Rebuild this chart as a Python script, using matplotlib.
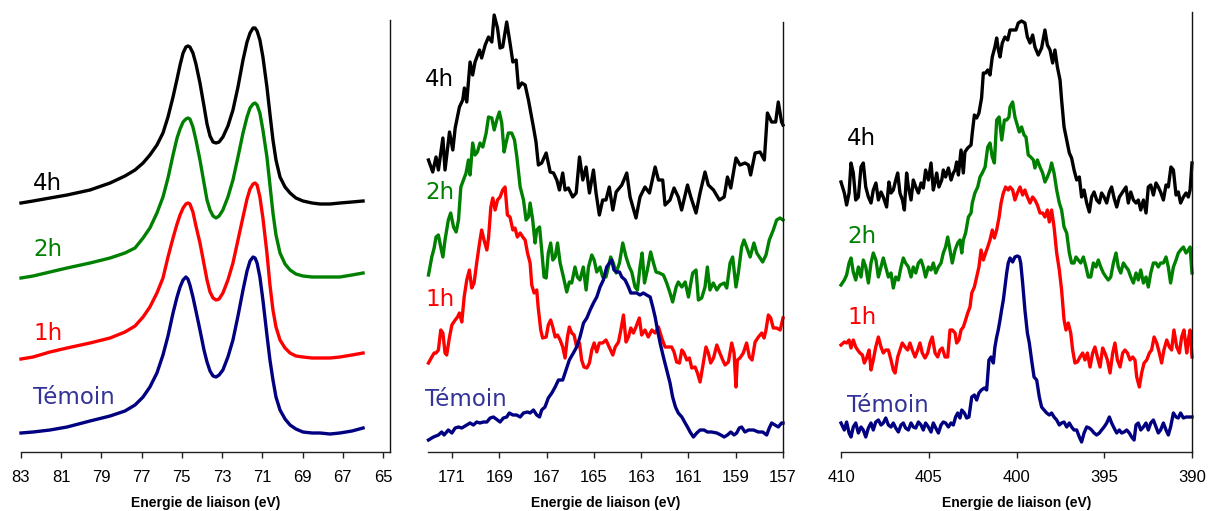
import matplotlib
matplotlib.use("Agg")
import matplotlib.pyplot as plt

plt.rcParams['font.family'] = ['Liberation Sans', 'DejaVu Sans']

# ---------------- Pt 4f ----------------
pt_e = [83.00, 82.40, 81.56, 80.71, 79.57, 78.57, 77.83, 77.33, 76.93, 76.59,
        76.24, 75.94, 75.69, 75.44, 75.24, 75.09, 74.94, 74.80, 74.70, 74.60,
        74.45, 74.30, 74.10, 73.90, 73.75, 73.60, 73.45, 73.30, 73.15, 72.96,
        72.71, 72.46, 72.21, 71.96, 71.76, 71.61, 71.46, 71.36, 71.26, 71.12,
        70.97, 70.77, 70.62, 70.47, 70.32, 70.12, 69.87, 69.62, 69.33, 68.98,
        68.53, 68.13, 67.63, 67.14, 66.54, 65.99]
pt_i_4h = [249, 251, 254, 257, 262, 269, 276, 282, 289, 297,
           307, 319, 335, 355, 373, 387, 399, 405, 406, 405,
           399, 388, 369, 346, 328, 316, 310, 309, 310, 315,
           326, 342, 365, 392, 410, 419, 424, 424, 421, 412,
           395, 365, 338, 312, 292, 275, 265, 259, 254, 251,
           249, 248, 248, 249, 250, 251]
pt_i_2h = [174, 176, 180, 184, 189, 194, 199, 204, 214, 224,
           239, 255, 274, 297, 314, 323, 330, 333, 334, 333,
           325, 312, 292, 269, 252, 242, 236, 234, 236, 242,
           255, 272, 295, 319, 335, 344, 348, 349, 347, 339,
           322, 295, 267, 239, 217, 199, 188, 182, 178, 176,
           175, 175, 175, 175, 177, 179]
pt_i_1h = [93, 95, 100, 104, 109, 114, 120, 126, 135, 145,
           159, 174, 195, 214, 228, 237, 244, 248, 249, 248,
           240, 226, 209, 188, 172, 160, 154, 152, 153, 159,
           172, 189, 212, 235, 253, 263, 268, 269, 267, 255,
           234, 199, 167, 142, 125, 112, 104, 99, 96, 95,
           94, 94, 94, 95, 97, 99]
pt_i_ref = [19, 20, 22, 25, 31, 36, 41, 47, 55, 65,
            79, 97, 116, 139, 155, 165, 172, 175, 173, 167,
            155, 141, 122, 102, 90, 81, 76, 75, 77, 82,
            95, 112, 136, 162, 181, 191, 195, 194, 189, 175,
            152, 117, 92, 72, 55, 42, 33, 27, 23, 20,
            19, 19, 18, 19, 21, 24]

# ---------------- S 2p ----------------
s_e_4h = [172.00, 171.82, 171.68, 171.58, 171.39, 171.30, 171.11, 170.97, 170.87, 170.69, 170.55, 170.48, 170.38,
          170.24, 170.13, 170.03, 169.84, 169.75, 169.60, 169.46, 169.32, 169.22, 169.08, 168.97, 168.86, 168.69,
          168.55, 168.43, 168.29, 168.19, 168.05, 167.91, 167.77, 167.56, 167.45, 167.35, 167.21, 167.02, 166.85,
          166.71, 166.57, 166.46, 166.32, 166.22, 166.08, 165.90, 165.75, 165.61, 165.47, 165.33, 165.19, 165.02,
          164.91, 164.77, 164.63, 164.49, 164.35, 164.20, 164.06, 163.82, 163.61, 163.47, 163.22, 163.05, 162.84,
          162.65, 162.41, 162.27, 162.09, 161.99, 161.78, 161.61, 161.43, 161.29, 161.04, 160.90, 160.68, 160.51,
          160.30, 160.16, 159.94, 159.69, 159.49, 159.35, 159.21, 158.99, 158.82, 158.61, 158.46, 158.37, 158.18,
          157.97, 157.79, 157.66, 157.48, 157.31, 157.20, 157.06, 157.00]
s_i_4h = [292, 280, 295, 282, 314, 282, 320, 302, 324, 345, 352, 364, 350,
          390, 377, 390, 402, 394, 407, 415, 410, 437, 424, 404, 405, 430,
          409, 390, 392, 364, 369, 367, 352, 325, 310, 287, 289, 299, 280,
          279, 272, 262, 279, 262, 264, 255, 259, 295, 272, 285, 259, 282,
          259, 237, 252, 252, 265, 242, 260, 267, 279, 255, 234, 255, 265,
          259, 285, 272, 272, 247, 252, 264, 255, 242, 267, 255, 239, 259,
          280, 267, 262, 252, 255, 275, 264, 294, 287, 289, 287, 277, 299,
          300, 292, 339, 330, 330, 350, 330, 327]

s_e_2h = [172.00, 171.86, 171.76, 171.68, 171.58, 171.48, 171.39, 171.30, 171.16, 171.06, 170.94, 170.83, 170.73,
          170.63, 170.52, 170.41, 170.31, 170.24, 170.13, 170.03, 169.93, 169.82, 169.70, 169.56, 169.46, 169.32,
          169.22, 169.11, 169.00, 168.90, 168.80, 168.72, 168.62, 168.48, 168.36, 168.26, 168.12, 167.98, 167.87,
          167.77, 167.70, 167.59, 167.49, 167.42, 167.30, 167.21, 167.11, 167.02, 166.93, 166.83, 166.74, 166.64,
          166.54, 166.43, 166.29, 166.15, 166.04, 165.94, 165.80, 165.70, 165.59, 165.45, 165.33, 165.23, 165.09,
          164.99, 164.88, 164.74, 164.63, 164.49, 164.29, 164.18, 164.06, 163.92, 163.78, 163.64, 163.50, 163.40,
          163.26, 163.16, 163.05, 162.96, 162.86, 162.74, 162.60, 162.48, 162.37, 162.23, 162.06, 161.92, 161.78,
          161.67, 161.52, 161.43, 161.28, 161.14, 161.00, 160.90, 160.82, 160.68, 160.58, 160.44, 160.30, 160.20,
          160.09, 159.95, 159.80, 159.66, 159.49, 159.38, 159.24, 159.13, 158.99, 158.89, 158.75, 158.65, 158.54,
          158.39, 158.23, 158.11, 158.00, 157.86, 157.72, 157.58, 157.41, 157.27, 157.13, 157.00]
s_i_2h = [177, 195, 204, 215, 217, 205, 195, 212, 232, 239, 225, 220, 232,
          265, 272, 279, 292, 277, 309, 297, 300, 309, 305, 319, 335, 334,
          322, 332, 340, 329, 300, 309, 319, 319, 312, 295, 265, 252, 232,
          235, 249, 232, 209, 222, 225, 202, 175, 174, 199, 209, 192, 195,
          209, 189, 175, 160, 170, 169, 185, 175, 172, 185, 162, 185, 197,
          192, 180, 185, 175, 175, 195, 189, 179, 189, 209, 195, 185, 180,
          165, 162, 185, 199, 169, 182, 200, 189, 180, 179, 177, 169, 159,
          150, 165, 170, 165, 170, 155, 169, 179, 182, 152, 154, 165, 185,
          162, 169, 162, 167, 169, 164, 189, 195, 165, 179, 205, 212, 205,
          195, 209, 199, 195, 190, 197, 212, 222, 232, 234, 232]

s_e_1h = [172.00, 171.86, 171.76, 171.68, 171.58, 171.48, 171.39, 171.30, 171.23, 171.11, 171.01, 170.87, 170.77,
          170.69, 170.59, 170.49, 170.38, 170.27, 170.17, 170.07, 169.96, 169.84, 169.75, 169.65, 169.53, 169.46,
          169.36, 169.28, 169.18, 169.08, 168.97, 168.86, 168.76, 168.66, 168.55, 168.43, 168.34, 168.24, 168.12,
          168.01, 167.91, 167.81, 167.70, 167.63, 167.53, 167.42, 167.36, 167.25, 167.17, 167.02, 166.93, 166.83,
          166.74, 166.64, 166.54, 166.43, 166.32, 166.22, 166.12, 166.04, 165.94, 165.84, 165.73, 165.61, 165.52,
          165.42, 165.30, 165.19, 165.09, 164.99, 164.88, 164.77, 164.63, 164.49, 164.20, 164.10, 163.96, 163.86,
          163.75, 163.64, 163.54, 163.44, 163.33, 163.22, 163.08, 162.98, 162.84, 162.70, 162.55, 162.41, 162.27,
          162.13, 161.99, 161.85, 161.71, 161.61, 161.50, 161.38, 161.28, 161.19, 161.07, 160.96, 160.86, 160.72,
          160.62, 160.51, 160.40, 160.26, 160.16, 160.06, 159.94, 159.80, 159.69, 159.55, 159.45, 159.31, 159.17,
          159.07, 158.99, 158.93, 158.82, 158.68, 158.54, 158.42, 158.31, 158.18, 158.04, 157.90, 157.80, 157.72,
          157.62, 157.52, 157.41, 157.27, 157.12, 157.00]
s_i_1h = [89, 95, 99, 99, 102, 122, 119, 99, 97, 115, 127, 132, 135,
          139, 130, 155, 172, 182, 164, 169, 189, 209, 222, 212, 202, 214,
          245, 254, 242, 252, 255, 262, 265, 237, 235, 222, 224, 215, 219,
          215, 212, 199, 189, 167, 159, 162, 145, 122, 114, 115, 127, 132,
          125, 115, 117, 112, 105, 94, 115, 125, 119, 117, 105, 109, 92,
          85, 84, 89, 102, 109, 100, 109, 109, 112, 97, 105, 110, 122,
          137, 110, 115, 124, 119, 125, 134, 117, 122, 115, 122, 119, 125,
          114, 105, 105, 105, 100, 90, 89, 102, 99, 92, 94, 84, 85,
          79, 70, 85, 105, 99, 89, 94, 107, 100, 92, 87, 90, 109,
          99, 65, 92, 94, 99, 109, 95, 92, 110, 115, 119, 114, 122,
          137, 134, 124, 124, 122, 134]

s_e_ref = [172.00, 171.79, 171.58, 171.44, 171.34, 171.16, 171.01, 170.87, 170.73, 170.59, 170.38, 170.24, 170.10,
           169.96, 169.82, 169.68, 169.53, 169.39, 169.25, 169.08, 168.97, 168.83, 168.69, 168.58, 168.43, 168.27,
           168.12, 167.98, 167.81, 167.70, 167.56, 167.42, 167.30, 167.21, 167.07, 166.93, 166.78, 166.64, 166.50,
           166.32, 166.18, 166.04, 165.87, 165.73, 165.59, 165.44, 165.30, 165.16, 165.02, 164.88, 164.74, 164.60,
           164.46, 164.25, 164.15, 164.03, 163.92, 163.82, 163.68, 163.54, 163.44, 163.33, 163.19, 163.05, 162.91,
           162.77, 162.62, 162.51, 162.41, 162.31, 162.20, 162.06, 161.92, 161.78, 161.67, 161.55, 161.43, 161.28,
           161.14, 161.04, 160.93, 160.79, 160.65, 160.51, 160.34, 160.20, 160.02, 159.80, 159.63, 159.49, 159.35,
           159.21, 159.07, 158.96, 158.85, 158.75, 158.61, 158.46, 158.25, 158.04, 157.86, 157.69, 157.58, 157.48,
           157.34, 157.20, 157.06, 157.00]
s_i_ref = [12, 15, 17, 20, 17, 22, 19, 24, 25, 24, 27, 29, 27,
           30, 29, 30, 30, 34, 35, 32, 30, 34, 35, 39, 37, 37,
           35, 39, 40, 39, 42, 37, 35, 42, 45, 54, 59, 65, 72,
           72, 82, 92, 99, 105, 115, 129, 134, 142, 149, 155, 165, 172,
           185, 192, 182, 180, 180, 175, 172, 165, 159, 159, 159, 157, 159,
           157, 155, 145, 135, 122, 109, 95, 82, 69, 55, 45, 39, 35,
           29, 25, 20, 15, 19, 22, 22, 20, 20, 19, 17, 15, 17,
           20, 17, 19, 24, 25, 20, 22, 22, 20, 20, 17, 24, 29,
           27, 25, 29, 29]

# ---------------- N 1s ----------------
n_e_4h = [410.00, 409.81, 409.68, 409.54, 409.43, 409.30, 409.16, 409.01, 408.86, 408.73, 408.59, 408.44, 408.29,
          408.16, 408.01, 407.87, 407.72, 407.59, 407.40, 407.27, 407.15, 407.02, 406.88, 406.77, 406.64, 406.50,
          406.39, 406.26, 406.16, 406.01, 405.88, 405.74, 405.59, 405.44, 405.31, 405.18, 405.02, 404.87, 404.74,
          404.64, 404.55, 404.42, 404.26, 404.17, 404.04, 403.88, 403.73, 403.60, 403.50, 403.41, 403.31, 403.16,
          403.03, 402.94, 402.78, 402.59, 402.52, 402.40, 402.27, 402.14, 401.99, 401.89, 401.76, 401.64, 401.51,
          401.38, 401.23, 401.13, 401.03, 400.94, 400.81, 400.66, 400.50, 400.37, 400.03, 399.90, 399.71, 399.52,
          399.38, 399.23, 399.08, 398.95, 398.76, 398.57, 398.38, 398.24, 398.09, 397.94, 397.81, 397.67, 397.52,
          397.43, 397.29, 397.14, 396.99, 396.86, 396.72, 396.57, 396.42, 396.29, 396.15, 396.00, 395.85, 395.72,
          395.58, 395.43, 395.28, 395.15, 395.01, 394.86, 394.71, 394.58, 394.44, 394.29, 394.14, 393.95, 393.76,
          393.63, 393.49, 393.34, 393.19, 393.06, 392.92, 392.77, 392.62, 392.49, 392.35, 392.20, 392.05, 391.92,
          391.79, 391.63, 391.48, 391.35, 391.20, 391.06, 390.91, 390.78, 390.65, 390.49, 390.34, 390.21, 390.11,
          390.00]
n_i_4h = [270, 259, 247, 259, 289, 279, 252, 255, 285, 289, 265, 255, 249,
          262, 269, 252, 260, 255, 245, 270, 259, 262, 272, 279, 259, 252,
          242, 279, 265, 252, 272, 265, 259, 269, 264, 282, 272, 289, 262,
          270, 279, 265, 272, 282, 275, 284, 272, 279, 282, 290, 277, 302,
          279, 300, 304, 307, 319, 337, 334, 339, 354, 379, 379, 382, 377,
          395, 405, 414, 402, 395, 409, 415, 412, 422, 422, 429, 431, 429,
          415, 409, 417, 405, 397, 404, 422, 407, 402, 389, 402, 385, 372,
          352, 325, 312, 299, 294, 282, 272, 275, 255, 262, 249, 240, 255,
          260, 252, 249, 259, 255, 249, 260, 265, 254, 245, 255, 260, 265,
          249, 260, 252, 249, 252, 242, 252, 239, 265, 267, 257, 269, 265,
          260, 252, 267, 265, 285, 282, 257, 260, 249, 255, 259, 255, 262,
          289]

n_e_2h = [410.00, 409.81, 409.68, 409.54, 409.43, 409.30, 409.16, 409.01, 408.86, 408.73, 408.59, 408.44, 408.29,
          408.16, 408.01, 407.87, 407.72, 407.59, 407.45, 407.30, 407.15, 407.02, 406.88, 406.73, 406.58, 406.45,
          406.32, 406.16, 406.01, 405.88, 405.74, 405.59, 405.44, 405.31, 405.18, 405.02, 404.87, 404.74, 404.60,
          404.45, 404.30, 404.17, 404.04, 403.92, 403.79, 403.66, 403.50, 403.35, 403.22, 403.12, 403.03, 402.90,
          402.74, 402.59, 402.52, 402.37, 402.21, 402.08, 401.95, 401.79, 401.64, 401.51, 401.38, 401.26, 401.13,
          400.99, 400.84, 400.69, 400.56, 400.43, 400.37, 400.22, 400.09, 399.99, 399.84, 399.71, 399.57, 399.46,
          399.33, 399.19, 399.04, 398.95, 398.81, 398.66, 398.51, 398.38, 398.24, 398.09, 398.00, 397.86, 397.71,
          397.56, 397.43, 397.29, 397.14, 396.99, 396.86, 396.72, 396.61, 396.48, 396.34, 396.19, 396.04, 395.91,
          395.77, 395.62, 395.47, 395.34, 395.20, 395.05, 394.90, 394.77, 394.63, 394.48, 394.33, 394.20, 394.06,
          393.91, 393.76, 393.63, 393.49, 393.34, 393.19, 393.06, 392.92, 392.77, 392.62, 392.49, 392.35, 392.20,
          392.05, 391.92, 391.79, 391.63, 391.48, 391.35, 391.22, 391.06, 390.91, 390.78, 390.65, 390.49, 390.34,
          390.21, 390.11, 390.00]
n_i_2h = [167, 172, 177, 189, 194, 180, 172, 185, 175, 192, 185, 169, 189,
          199, 192, 175, 185, 194, 185, 175, 179, 164, 175, 172, 185, 194,
          189, 185, 175, 185, 179, 189, 192, 185, 175, 185, 182, 189, 179,
          185, 189, 199, 205, 215, 202, 189, 202, 209, 212, 199, 212, 219,
          235, 239, 249, 259, 265, 275, 279, 285, 305, 309, 295, 289, 332,
          335, 312, 332, 332, 335, 345, 350, 335, 329, 320, 325, 317, 315,
          297, 295, 292, 284, 292, 285, 279, 270, 275, 282, 289, 279, 262,
          249, 242, 225, 219, 199, 189, 189, 195, 192, 189, 195, 185, 175,
          175, 189, 185, 192, 185, 179, 175, 172, 175, 189, 199, 185, 179,
          189, 185, 182, 175, 169, 179, 172, 182, 169, 175, 165, 179, 189,
          189, 185, 189, 189, 195, 185, 169, 185, 192, 199, 202, 205, 199,
          202, 205, 179]

n_e_1h = [410.00, 409.81, 409.68, 409.54, 409.43, 409.30, 409.16, 409.05, 408.92, 408.78, 408.67, 408.54, 408.40,
          408.29, 408.16, 408.02, 407.87, 407.72, 407.59, 407.45, 407.30, 407.15, 407.02, 406.92, 406.77, 406.64,
          406.51, 406.35, 406.20, 406.07, 405.94, 405.78, 405.63, 405.50, 405.37, 405.21, 405.06, 404.93, 404.80,
          404.64, 404.49, 404.36, 404.23, 404.07, 403.92, 403.79, 403.66, 403.50, 403.41, 403.28, 403.16, 403.03,
          402.90, 402.78, 402.65, 402.55, 402.40, 402.27, 402.14, 402.02, 401.89, 401.76, 401.64, 401.51, 401.38,
          401.26, 401.13, 400.99, 400.88, 400.75, 400.62, 400.47, 400.37, 400.22, 400.09, 399.95, 399.80, 399.65,
          399.52, 399.38, 399.23, 399.08, 398.95, 398.81, 398.66, 398.51, 398.38, 398.24, 398.13, 398.00, 397.86,
          397.71, 397.56, 397.43, 397.29, 397.18, 397.05, 396.91, 396.80, 396.67, 396.53, 396.38, 396.23, 396.10,
          395.96, 395.81, 395.66, 395.53, 395.39, 395.24, 395.09, 394.96, 394.82, 394.67, 394.52, 394.39, 394.25,
          394.10, 393.95, 393.82, 393.68, 393.53, 393.38, 393.25, 393.15, 393.00, 392.87, 392.73, 392.58, 392.43,
          392.30, 392.16, 392.01, 391.86, 391.73, 391.60, 391.44, 391.29, 391.16, 391.03, 390.87, 390.72, 390.59,
          390.46, 390.30, 390.21, 390.11, 390.00]
n_i_1h = [107, 110, 109, 112, 104, 112, 105, 102, 99, 97, 89, 94, 102,
          82, 92, 105, 115, 105, 99, 102, 102, 92, 82, 79, 95, 102,
          109, 105, 102, 109, 102, 95, 102, 109, 99, 94, 99, 109, 115,
          99, 95, 102, 104, 95, 95, 122, 122, 119, 109, 112, 122, 125,
          132, 139, 145, 159, 165, 175, 185, 202, 192, 199, 205, 212, 222,
          214, 222, 235, 249, 259, 265, 262, 265, 262, 252, 259, 265, 257,
          262, 255, 249, 255, 252, 247, 239, 239, 235, 242, 230, 242, 225,
          199, 182, 162, 132, 122, 129, 119, 102, 89, 90, 95, 99, 92,
          99, 85, 99, 105, 95, 85, 104, 99, 92, 79, 99, 109, 92,
          85, 99, 102, 99, 92, 95, 92, 75, 65, 79, 89, 92, 99,
          102, 115, 109, 99, 89, 102, 112, 105, 102, 122, 105, 99, 115,
          122, 99, 112, 122, 95]

n_e_ref = [410.00, 409.81, 409.68, 409.54, 409.43, 409.30, 409.16, 409.01, 408.86, 408.73, 408.59, 408.44, 408.29,
           408.16, 408.02, 407.87, 407.72, 407.59, 407.45, 407.30, 407.15, 407.02, 406.88, 406.73, 406.58, 406.45,
           406.32, 406.16, 406.01, 405.88, 405.74, 405.59, 405.44, 405.31, 405.18, 405.02, 404.87, 404.74, 404.60,
           404.45, 404.30, 404.17, 404.04, 403.88, 403.73, 403.60, 403.47, 403.35, 403.22, 403.12, 402.97, 402.84,
           402.71, 402.55, 402.40, 402.27, 402.14, 402.00, 401.83, 401.70, 401.57, 401.45, 401.32, 401.23, 401.13,
           401.04, 400.94, 400.85, 400.75, 400.66, 400.56, 400.47, 400.37, 400.22, 400.09, 399.95, 399.84, 399.76,
           399.65, 399.52, 399.38, 399.27, 399.14, 399.00, 398.85, 398.70, 398.57, 398.43, 398.28, 398.13, 398.00,
           397.86, 397.71, 397.56, 397.43, 397.29, 397.14, 396.99, 396.86, 396.72, 396.57, 396.42, 396.29, 396.15,
           396.00, 395.85, 395.72, 395.58, 395.43, 395.28, 395.15, 395.01, 394.86, 394.71, 394.58, 394.44, 394.29,
           394.14, 394.01, 393.87, 393.72, 393.57, 393.44, 393.30, 393.19, 393.06, 392.92, 392.77, 392.62, 392.49,
           392.35, 392.20, 392.05, 391.92, 391.79, 391.63, 391.48, 391.35, 391.22, 391.06, 390.91, 390.78, 390.65,
           390.49, 390.34, 390.11, 390.00]
n_i_ref = [29, 22, 30, 19, 15, 25, 29, 19, 25, 22, 15, 24, 29,
           22, 30, 32, 27, 29, 34, 27, 25, 29, 24, 20, 27, 29,
           24, 22, 29, 25, 24, 30, 27, 22, 29, 25, 20, 29, 24,
           19, 27, 30, 29, 25, 29, 27, 35, 39, 34, 42, 39, 34,
           35, 55, 57, 52, 59, 62, 64, 62, 92, 95, 89, 105, 115,
           122, 132, 142, 152, 165, 179, 189, 194, 190, 195, 196, 195, 189,
           169, 142, 119, 109, 92, 75, 72, 55, 45, 42, 39, 37, 39,
           35, 32, 27, 29, 30, 25, 29, 25, 22, 22, 15, 10, 19,
           25, 24, 22, 19, 17, 19, 22, 25, 29, 35, 29, 24, 19,
           22, 19, 20, 22, 19, 15, 12, 27, 29, 22, 25, 29, 22,
           29, 32, 25, 19, 22, 29, 22, 17, 25, 39, 35, 34, 39,
           34, 35, 35, 35]

labels = ['4h', '2h', '1h', 'Témoin']
line_colors = ['#000000', '#008000', '#ff0000', '#000080']
text_colors = ['#000000', '#008000', '#ff0000', '#333399']

W, H = 1208, 511
fig = plt.figure(figsize=(W / 100, H / 100), dpi=100)


def panel(left, right, top, bottom=452):
    ax = fig.add_axes([left / W, 1 - bottom / H, (right - left) / W, (bottom - top) / H])
    ax.spines['left'].set_visible(False)
    ax.spines['top'].set_visible(False)
    ax.spines['right'].set_linewidth(1.0)
    ax.spines['right'].set_color('#111111')
    ax.spines['bottom'].set_linewidth(1.0)
    ax.spines['bottom'].set_color('#222222')
    ax.set_yticks([])
    ax.tick_params(axis='x', direction='out', length=4, width=1, color='#222222',
                   pad=9, labelsize=12)
    ax.set_xlabel('Energie de liaison (eV)', fontsize=10, fontweight='bold', labelpad=8)
    return ax


def draw(ax, curves, label_x, label_y):
    for (e, i), lab, lc, tc, ly in zip(curves, labels, line_colors, text_colors, label_y):
        ax.plot(e, i, color=lc, lw=2.4, solid_joinstyle='round', clip_on=False)
        ax.text(label_x, ly, lab, color=tc, fontsize=16.5, family='DejaVu Sans',
                ha='left', va='center')


ax1 = panel(21, 390, 20)
ax1.set_xlim(83, 64.65)
ax1.set_ylim(0, 432)
ax1.set_xticks(range(83, 64, -2))
draw(ax1, [(pt_e, pt_i_4h), (pt_e, pt_i_2h), (pt_e, pt_i_1h), (pt_e, pt_i_ref)],
     82.40, [269, 203, 119, 54])

ax2 = panel(428, 783, 22)
ax2.set_xlim(172.02, 157)
ax2.set_ylim(0, 430)
ax2.set_xticks(range(171, 156, -2))
draw(ax2, [(s_e_4h, s_i_4h), (s_e_2h, s_i_2h), (s_e_1h, s_i_1h), (s_e_ref, s_i_ref)],
     172.14, [373, 260, 153, 53])

ax3 = panel(841, 1192, 12)
ax3.set_xlim(410, 390)
ax3.set_ylim(0, 440)
ax3.set_xticks(range(410, 389, -5))
draw(ax3, [(n_e_4h, n_i_4h), (n_e_2h, n_i_2h), (n_e_1h, n_i_1h), (n_e_ref, n_i_ref)],
     409.66, [314, 216, 134, 46])

fig.savefig('out.png', dpi=100)
